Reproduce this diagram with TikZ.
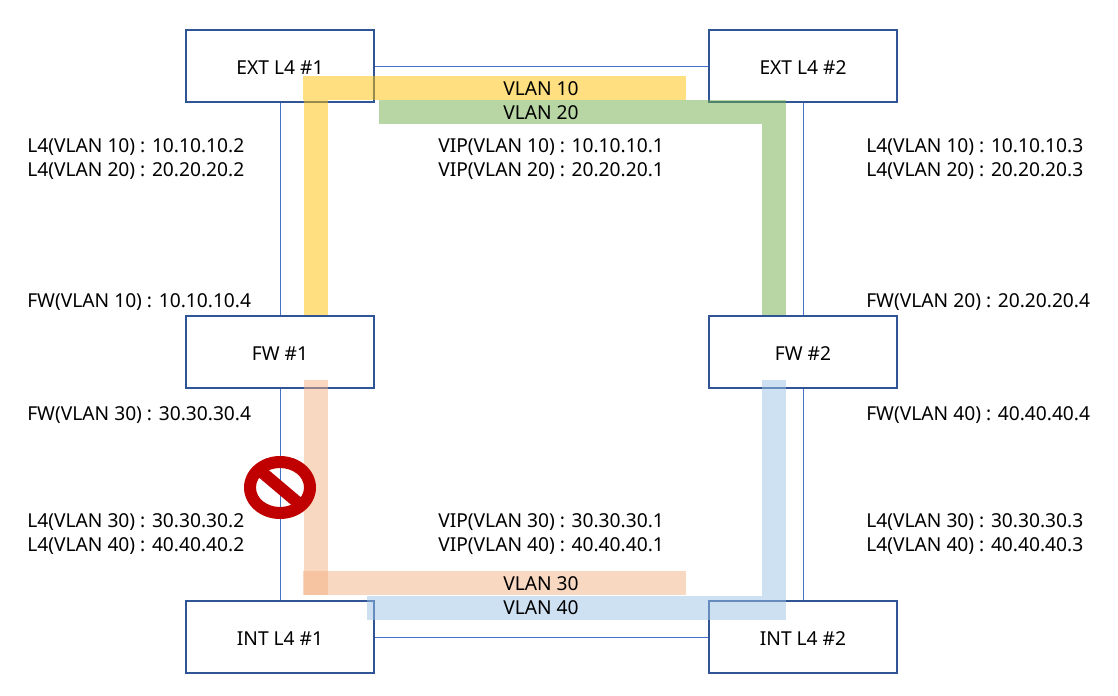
\documentclass[tikz,border=0pt]{standalone}
\usepackage{fontspec}
\setmainfont{Noto Sans}
\begin{document}
\begin{tikzpicture}[x=0.75pt,y=-0.75pt,
  txt/.style={font=\fontsize{14.4}{16}\selectfont},
  box/.style={txt,draw=boxblue,line width=1.5pt,fill=white,minimum width=141pt,minimum height=54pt,inner sep=0pt,text height=13.4pt,text depth=0pt},
  link/.style={draw=lineblue,line width=0.75pt},
  lbl/.style={txt,anchor=west,inner sep=0pt,yshift=-1.8pt},
  vl/.style={txt,inner sep=0pt,yshift=-0.8pt},
  band/.style={fill opacity=0.5,draw=none}]
\definecolor{boxblue}{HTML}{2F5597}
\definecolor{lineblue}{HTML}{4472C4}
\definecolor{byel}{HTML}{FFC000}
\definecolor{bgrn}{HTML}{70AD47}
\definecolor{bora}{HTML}{F4B183}
\definecolor{bblu}{HTML}{9DC3E6}
\definecolor{stopred}{HTML}{C00000}
\useasboundingbox (0,0) rectangle (1118,696);
% boxes
\node[box] (e1) at (280,66) {EXT L4 \#1};
\node[box] (e2) at (803,66) {EXT L4 \#2};
\node[box] (f1) at (280,352) {FW \#1};
\node[box] (f2) at (803,352) {FW \#2};
\node[box] (i1) at (280,637) {INT L4 \#1};
\node[box] (i2) at (803,637) {INT L4 \#2};
% links
\draw[link] (e1.east) -- (e2.west);
\draw[link] (i1.east) -- (i2.west);
\draw[link] (e1.south) -- (f1.north);
\draw[link] (f1.south) -- (i1.north);
\draw[link] (e2.south) -- (f2.north);
\draw[link] (f2.south) -- (i2.north);
% bands
\fill[band,byel] (303,76) rectangle (686,100);
\fill[band,byel] (304,100) rectangle (328,315);
\fill[band,bgrn] (379,100) rectangle (786,124);
\fill[band,bgrn] (762,124) rectangle (786,315);
\fill[band,bora] (304,380) rectangle (328,595);
\fill[band,bora] (303,571) rectangle (686,595);
\fill[band,bblu] (762,380) rectangle (786,596);
\fill[band,bblu] (367,596) rectangle (786,620);
\node[vl] (v10) at (541,88) {VLAN 10};
\node[vl] (v20) at (541,112) {VLAN 20};
\node[vl] (v30) at (541,583) {VLAN 30};
\node[vl] (v40) at (541,607) {VLAN 40};
% labels
\node[lbl] (a1) at (27,145) {L4(VLAN 10) : 10.10.10.2};
\node[lbl] (a2) at (27,169) {L4(VLAN 20) : 20.20.20.2};
\node[lbl] (b1) at (438,145) {VIP(VLAN 10) : 10.10.10.1};
\node[lbl] (b2) at (438,169) {VIP(VLAN 20) : 20.20.20.1};
\node[lbl] (c1) at (866,145) {L4(VLAN 10) : 10.10.10.3};
\node[lbl] (c2) at (866,169) {L4(VLAN 20) : 20.20.20.3};
\node[lbl] (d1) at (27,300) {FW(VLAN 10) : 10.10.10.4};
\node[lbl] (d2) at (866,300) {FW(VLAN 20) : 20.20.20.4};
\node[lbl] (g1) at (27,413) {FW(VLAN 30) : 30.30.30.4};
\node[lbl] (g2) at (866,413) {FW(VLAN 40) : 40.40.40.4};
\node[lbl] (h1) at (27,520) {L4(VLAN 30) : 30.30.30.2};
\node[lbl] (h2) at (27,544) {L4(VLAN 40) : 40.40.40.2};
\node[lbl] (k1) at (438,520) {VIP(VLAN 30) : 30.30.30.1};
\node[lbl] (k2) at (438,544) {VIP(VLAN 40) : 40.40.40.1};
\node[lbl] (m1) at (866,520) {L4(VLAN 30) : 30.30.30.3};
\node[lbl] (m2) at (866,544) {L4(VLAN 40) : 40.40.40.3};
% prohibition sign
\begin{scope}[shift={(280,487.5)}]
\fill[stopred,even odd rule] (0,0) ellipse [x radius=36,y radius=31.5] (0,0) ellipse [x radius=24,y radius=19.5];
\begin{scope}
\clip (0,0) ellipse [x radius=25,y radius=20.5];
\draw[stopred,line width=9pt] (-26,-22) -- (26,22);
\end{scope}
\end{scope}
\end{tikzpicture}
\end{document}
